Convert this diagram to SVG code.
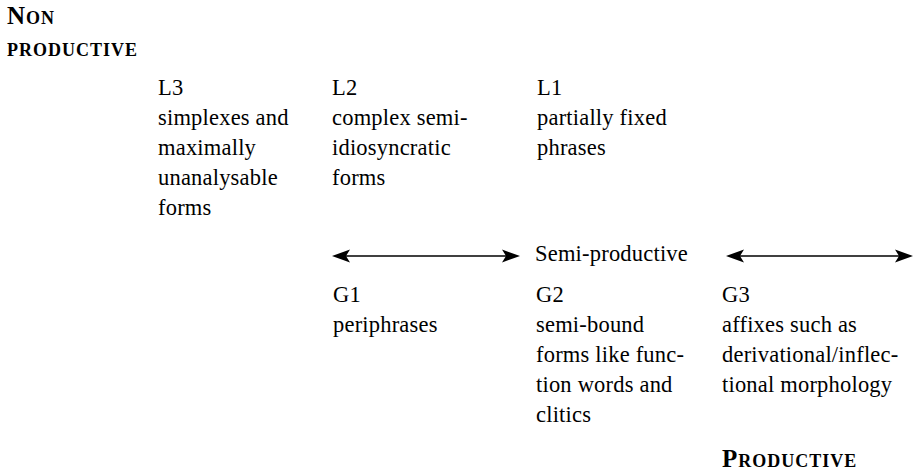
<svg xmlns="http://www.w3.org/2000/svg" width="914" height="473" viewBox="0 0 914 473">
<style>
  text { font-family: "Liberation Serif", "Times New Roman", serif; font-size: 22.5px; letter-spacing: 0.2px; fill: #000; }
  .sc { font-weight: bold; font-variant: small-caps; font-size: 25px; letter-spacing: 1px; }
  .conn line { stroke: #000; stroke-width: 1.5; fill: none; }
</style>
<defs>
  <marker id="arr" viewBox="0 -7 18 14" refX="14" refY="0" markerWidth="18" markerHeight="14" markerUnits="userSpaceOnUse" orient="auto-start-reverse">
    <path d="M0,-6.5 L18,0 L0,6.5 L4,0 Z" fill="#000"/>
  </marker>
</defs>
<g id="non-productive">
  <text class="sc" x="7" y="24">Non</text>
  <text class="sc" x="7" y="56">productive</text>
</g>
<g id="L3">
  <text x="158" y="95">L3</text>
  <text x="158" y="125">simplexes and</text>
  <text x="158" y="155">maximally</text>
  <text x="158" y="185">unanalysable</text>
  <text x="158" y="215">forms</text>
</g>
<g id="L2">
  <text x="332" y="95">L2</text>
  <text x="332" y="125">complex semi-</text>
  <text x="332" y="155">idiosyncratic</text>
  <text x="332" y="185">forms</text>
</g>
<g id="L1">
  <text x="537" y="95">L1</text>
  <text x="537" y="125">partially fixed</text>
  <text x="537" y="155">phrases</text>
</g>
<g id="semi-productive">
  <text x="535" y="261">Semi-productive</text>
</g>
<g id="G1">
  <text x="333" y="302">G1</text>
  <text x="333" y="332">periphrases</text>
</g>
<g id="G2">
  <text x="536" y="302">G2</text>
  <text x="536" y="332">semi-bound</text>
  <text x="536" y="362">forms like func-</text>
  <text x="536" y="392">tion words and</text>
  <text x="536" y="422">clitics</text>
</g>
<g id="G3">
  <text x="722" y="302">G3</text>
  <text x="722" y="332">affixes such as</text>
  <text x="722" y="362">derivational/inflec-</text>
  <text x="722" y="392">tional morphology</text>
</g>
<g id="productive">
  <text class="sc" x="722" y="467">Productive</text>
</g>
<g id="connectors" class="conn">
  <line x1="336" y1="256" x2="516" y2="256" marker-start="url(#arr)" marker-end="url(#arr)"/>
  <line x1="730" y1="256" x2="909" y2="256" marker-start="url(#arr)" marker-end="url(#arr)"/>
</g>
</svg>
